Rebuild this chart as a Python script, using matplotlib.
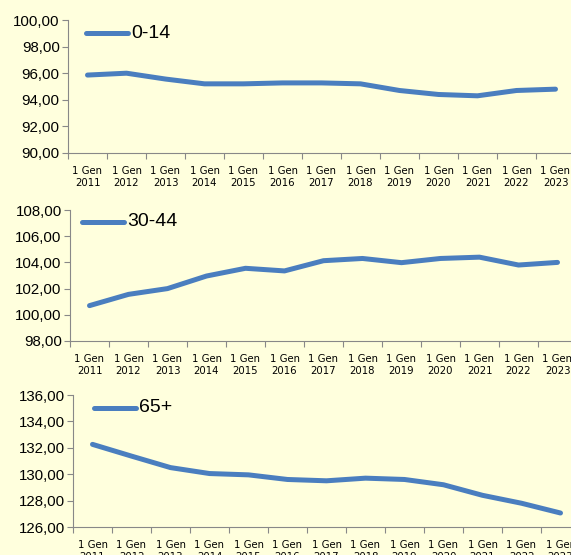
import matplotlib.pyplot as plt
from matplotlib.ticker import FuncFormatter

years = ['2011', '2012', '2013', '2014', '2015', '2016', '2017',
         '2018', '2019', '2020', '2021', '2022', '2023']
labels = ['1 Gen\n' + y for y in years]

v_0_14 = [95.86, 96.0, 95.56, 95.2, 95.2, 95.27, 95.27, 95.2, 94.7, 94.4, 94.3, 94.7, 94.8]
v_30_44 = [100.7, 101.56, 102.0, 102.96, 103.55, 103.35, 104.13, 104.3, 103.98, 104.3, 104.4, 103.8, 104.0]
v_65 = [132.26, 131.37, 130.5, 130.05, 129.95, 129.6, 129.5, 129.7, 129.6, 129.2, 128.4, 127.8, 127.06]

panels = [
    ('0-14', v_0_14, (90, 100), [68, 153, 133], (86, 33)),
    ('30-44', v_30_44, (98, 108), [70, 341, 131], (82, 222)),
    ('65+', v_65, (126, 136), [73, 527, 132], (94, 408)),
]

bg = '#FFFFDD'
blue = '#4A7EBF'
W, H = 571, 555

fig = plt.figure(figsize=(W / 100, H / 100), dpi=100)
fig.patch.set_facecolor(bg)

fmt = FuncFormatter(lambda v, p: f'{v:.2f}'.replace('.', ','))

for name, vals, ylim, (left, bottom, height), (lx, ly) in panels:
    ax = fig.add_axes([left / W, (H - bottom) / H, 13 * 39 / W, height / H])
    ax.set_facecolor(bg)
    x = list(range(len(years)))
    ax.plot(x, vals, color=blue, lw=3.6, solid_capstyle='round', solid_joinstyle='round')
    ax.set_xlim(-0.5, 12.5)
    ax.set_ylim(*ylim)
    ax.set_yticks(range(ylim[0], ylim[1] + 1, 2))
    ax.yaxis.set_major_formatter(fmt)
    ax.set_xticks([i - 0.5 for i in range(14)], minor=False)
    ax.set_xticklabels([])
    ax.set_xticks(x, minor=True)
    ax.set_xticklabels(labels, minor=True, fontsize=7.3, family='DejaVu Sans', linespacing=1.3)
    ax.tick_params(axis='x', which='minor', length=0, pad=9)
    ax.tick_params(axis='x', which='major', length=4, color='#888888')
    ax.tick_params(axis='y', length=4, color='#888888', pad=2, labelsize=10.8)
    for lab in ax.get_yticklabels():
        lab.set_family('Liberation Sans')
    for s in ['top', 'right']:
        ax.spines[s].set_visible(False)
    for s in ['left', 'bottom']:
        ax.spines[s].set_color('#888888')
    # legend drawn by hand in figure pixels
    fig.lines.append(plt.Line2D([lx / W, (lx + 42) / W], [(H - ly) / H] * 2,
                                color=blue, lw=3.6, solid_capstyle='round',
                                transform=fig.transFigure))
    fig.text((lx + 45) / W, (H - ly) / H, name, fontsize=14,
             family='Liberation Sans', va='center', ha='left')

fig.savefig('out.png', dpi=100, facecolor=bg)
